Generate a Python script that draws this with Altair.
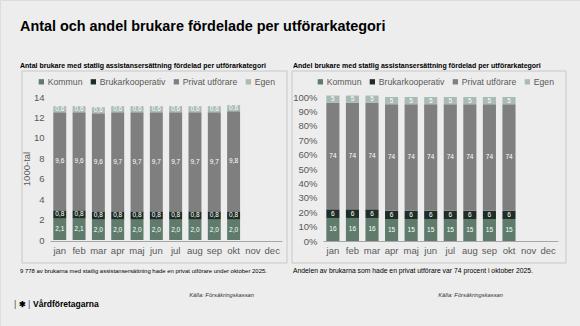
import altair as alt
import pandas as pd

months = ["jan", "feb", "mar", "apr", "maj", "jun", "jul", "aug", "sep", "okt", "nov", "dec"]
categories = ["Kommun", "Brukarkooperativ", "Privat utförare", "Egen"]
colors = ["#5e7b6b", "#1f2d27", "#7f7f7f", "#a9bbb2"]

# Antal (1000-tal)
antal_kommun = [2.1, 2.1, 2.0, 2.0, 2.0, 2.0, 2.0, 2.0, 2.0, 2.0]
antal_bruk = [0.8, 0.8, 0.8, 0.8, 0.8, 0.8, 0.8, 0.8, 0.8, 0.8]
antal_privat = [9.6, 9.6, 9.6, 9.7, 9.7, 9.7, 9.7, 9.7, 9.7, 9.8]
antal_egen = [0.6, 0.6, 0.6, 0.6, 0.6, 0.6, 0.6, 0.6, 0.6, 0.6]

# Andel (procent)
andel_kommun = [16, 16, 16, 15, 15, 15, 15, 15, 15, 15]
andel_bruk = [6, 6, 6, 6, 6, 6, 6, 6, 6, 6]
andel_privat = [74, 74, 74, 74, 74, 74, 74, 74, 74, 74]
andel_egen = [5, 5, 5, 5, 5, 5, 5, 5, 5, 5]

y_ticks_left = [0, 2, 4, 6, 8, 10, 12, 14]
y_ticks_right = [0, 10, 20, 30, 40, 50, 60, 70, 80, 90, 100]

FONT = "Liberation Sans"
GREY = "#595959"


def long_df(series, fmt):
    rows = []
    for i, m in enumerate(months[: len(series[0])]):
        cum = 0.0
        for k, cat in enumerate(categories):
            v = series[k][i]
            rows.append({"month": m, "cat": cat, "idx": k, "value": v,
                         "mid": cum + v / 2, "label": fmt(v)})
            cum += v
    return pd.DataFrame(rows)


df_antal = long_df([antal_kommun, antal_bruk, antal_privat, antal_egen],
                   lambda v: f"{v:.1f}".replace(".", ","))
df_andel = long_df([andel_kommun, andel_bruk, andel_privat, andel_egen],
                   lambda v: f"{v:d}")


def panel(df, xrange, ydomain, yrange, yticks, yoffset, legend_x, ytitle, label_expr):
    xscale = alt.Scale(domain=months, range=xrange, paddingInner=0.33, paddingOuter=0.17)
    xaxis = alt.Axis(orient="bottom", offset=-85, labelAngle=0, ticks=False,
                     domainColor="#a6a6a6", labelPadding=4, labelFontSize=9.5,
                     labelColor=GREY, labelFont=FONT, title=None)
    yaxis_kwargs = dict(orient="left", offset=yoffset, values=yticks, domain=False, ticks=False,
                        grid=False, labelPadding=6, labelFontSize=9.5, labelColor=GREY,
                        labelFont=FONT, labelOverlap=False)
    if label_expr:
        yaxis_kwargs["labelExpr"] = label_expr
    if ytitle:
        yaxis_kwargs.update(title=ytitle, titleFontWeight="normal", titleFontSize=9.5,
                            titleColor=GREY, titleFont=FONT, titlePadding=2)
    else:
        yaxis_kwargs.update(title=None)
    yaxis = alt.Axis(**yaxis_kwargs)
    yscale = alt.Scale(domain=ydomain, range=yrange, zero=True, nice=False)
    bars = alt.Chart(df).mark_bar().encode(
        x=alt.X("month:N", sort=months, scale=xscale, axis=xaxis),
        y=alt.Y("value:Q", stack="zero", scale=yscale, axis=yaxis),
        order=alt.Order("idx:Q", sort="ascending"),
        color=alt.Color("cat:N", scale=alt.Scale(domain=categories, range=colors),
                        legend=alt.Legend(orient="none", legendX=legend_x, legendY=77,
                                          direction="horizontal", title=None,
                                          symbolType="square", symbolSize=28,
                                          symbolStrokeWidth=0, labelFontSize=8.7,
                                          labelColor=GREY, labelFont=FONT,
                                          columnPadding=6, labelOffset=2)),
    )
    labels = alt.Chart(df).mark_text(fontSize=6.5, color="white", font=FONT).encode(
        x=alt.X("month:N", sort=months, scale=xscale, axis=xaxis),
        y=alt.Y("mid:Q", scale=yscale, axis=yaxis),
        text="label:N",
    )
    return alt.layer(bars, labels)


left = panel(df_antal, [50, 282], [0, 14], [240, 97], y_ticks_left, -50, 37, "1000-tal", None)
right = panel(df_andel, [323, 558], [0, 100], [241, 97], y_ticks_right, -323, 316, None,
              "datum.value + '%'")

base = alt.Chart(pd.DataFrame({"a": [0]}))


def box(x1, x2, y1, y2):
    return base.mark_rect(fillOpacity=0, stroke="#c8c8c8", strokeWidth=1).encode(
        x=alt.value(x1), x2=alt.value(x2), y=alt.value(y1), y2=alt.value(y2))


def txt(s, x, y, size, weight="normal", style="normal", align="left", color="#000000"):
    return base.mark_text(align=align, baseline="alphabetic", fontSize=size, fontWeight=weight,
                          fontStyle=style, font=FONT, color=color).encode(
        x=alt.value(x), y=alt.value(y), text=alt.value(s))


decor = [
    box(22, 287, 71, 263),
    box(292, 566, 71, 263),
    txt("Antal och andel brukare fördelade per utförarkategori", 20, 31, 14.4, "bold"),
    txt("Antal brukare med statlig assistansersättning fördelad per utförarkategori", 20, 68, 7, "bold"),
    txt("Andel brukare med statlig assistansersättning fördelad per utförarkategori", 293, 68, 7, "bold"),
    txt("9 778 av brukarna med statlig assistansersättning hade en privat utförare under oktober 2025.",
        20, 273, 5.95),
    txt("Andelen av brukarna som hade en privat utförare var 74 procent i oktober 2025.", 293, 273, 6.8),
    txt("Källa: Försäkringskassan", 254, 297, 5.8, style="italic", align="right", color="#333333"),
    txt("Källa: Försäkringskassan", 503, 297, 5.8, style="italic", align="right", color="#333333"),
    txt("|", 14, 307, 9, color="#555555"),
    txt("✱", 19, 307, 8, "bold"),
    txt("|", 28, 307, 9, color="#555555"),
    txt("Vårdföretagarna", 33, 307, 8.5, "bold"),
]

chart = alt.layer(left, right, *decor).resolve_scale(
    x="independent", y="independent", color="independent"
).properties(
    width=580, height=326, autosize=alt.AutoSizeParams(type="none"), padding=0,
    background="#ededed",
).configure_view(stroke=None).configure(font=FONT)

chart.save("out.html", embed_options={"renderer": "svg", "actions": False})
